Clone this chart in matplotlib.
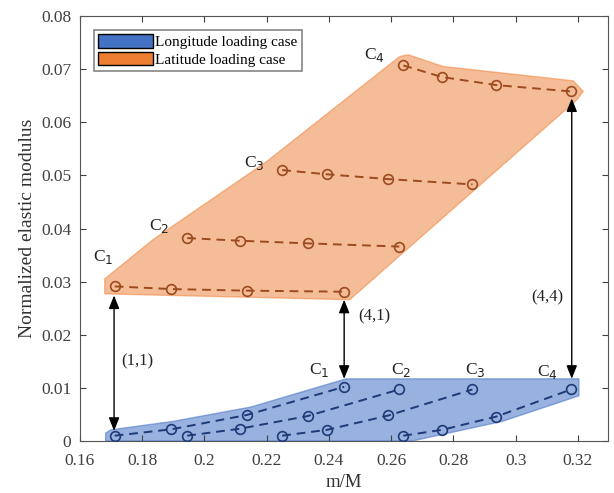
import numpy as np
import matplotlib
matplotlib.use('Agg')
from matplotlib import pyplot as plt
from matplotlib.patches import Patch, Polygon

plt.rcParams['font.family'] = ['Liberation Serif', 'DejaVu Serif']

ORANGE = '#ED7D31'
BLUE = '#4472C4'
ORANGE_DARK = '#9C4A1E'
BLUE_DARK = '#1E3A78'
AXIS_GRAY = '#404040'

# m/M values of the 4 cases (C1..C4), 4 points each
mM = [
    [0.1712, 0.1894, 0.2137, 0.2449],
    [0.1945, 0.2113, 0.2332, 0.2626],
    [0.2250, 0.2394, 0.2591, 0.2861],
    [0.2639, 0.2764, 0.2938, 0.3178],
]
# normalized elastic modulus, latitude loading
lat_E = [
    [0.0291, 0.0286, 0.0283, 0.0281],
    [0.0382, 0.0377, 0.0372, 0.0366],
    [0.0510, 0.0502, 0.0493, 0.0483],
    [0.0707, 0.0685, 0.0670, 0.0658],
]
# normalized elastic modulus, longitude loading
lon_E = [
    [0.0010, 0.0022, 0.0049, 0.0102],
    [0.0010, 0.0023, 0.0047, 0.0097],
    [0.0010, 0.0021, 0.0048, 0.0097],
    [0.0010, 0.0021, 0.0046, 0.0097],
]
# envelopes of the shaded regions
lat_env_x = [0.1680, 0.1680, 0.1835, 0.2200, 0.2628, 0.2655, 0.2767, 0.3185, 0.3217, 0.3196, 0.2467, 0.1680]
lat_env_y = [0.0277, 0.0305, 0.0379, 0.0526, 0.0724, 0.0727, 0.0705, 0.0678, 0.0658, 0.0642, 0.0266, 0.0277]
lon_env_x = [0.1683, 0.1683, 0.1700, 0.1900, 0.2150, 0.2455, 0.3203, 0.3203, 0.2957, 0.2668, 0.1683]
lon_env_y = [0.0000, 0.0015, 0.0021, 0.0037, 0.0064, 0.0117, 0.0117, 0.0085, 0.0037, 0.0000, 0.0000]

case_labels = ['C$_1$', 'C$_2$', 'C$_3$', 'C$_4$']
lat_label_pos = [(0.1675, 0.0347), (0.1854, 0.0404), (0.2159, 0.0524), (0.2545, 0.0727)]
lon_label_pos = [(0.2369, 0.0133), (0.2631, 0.0133), (0.2871, 0.0133), (0.3101, 0.0130)]

# double arrows: (label, x, y_top, y_bottom, label x, label y)
arrows = [
    ('(1,1)', 0.1710, 0.0274, 0.0019, 0.1784, 0.0149),
    ('(4,1)', 0.2449, 0.0266, 0.0117, 0.2546, 0.0234),
    ('(4,4)', 0.3180, 0.0645, 0.0117, 0.3100, 0.0271),
]

fig = plt.figure(figsize=(6.14, 4.93), dpi=100)
ax = fig.add_axes([0.130, 0.1055, 0.860, 0.862])

ax.add_patch(Polygon(np.column_stack([lon_env_x, lon_env_y]), closed=True,
                     facecolor=BLUE, alpha=0.55, edgecolor=BLUE, lw=1, zorder=1))
ax.add_patch(Polygon(np.column_stack([lat_env_x, lat_env_y]), closed=True,
                     facecolor=ORANGE, alpha=0.5, edgecolor=ORANGE, lw=1, zorder=1))

for i in range(4):
    ax.plot(mM[i], lat_E[i], '--o', color=ORANGE_DARK, mfc='none', ms=7, lw=1.4, mew=1.2,
            dashes=(4.5, 3), zorder=3)
    ax.plot(mM[i], lon_E[i], '--o', color=BLUE_DARK, mfc='none', ms=7, lw=1.4, mew=1.2,
            dashes=(4.5, 3), zorder=3)
    ax.text(*lat_label_pos[i], case_labels[i], fontsize=12.5, ha='center', va='center', color='#222222')
    ax.text(*lon_label_pos[i], case_labels[i], fontsize=12.5, ha='center', va='center', color='#222222')

for lab, x, yt, yb, lx, ly in arrows:
    ax.annotate('', xy=(x, yt), xytext=(x, yb),
                arrowprops=dict(arrowstyle='<|-|>,head_length=0.8,head_width=0.32',
                                color='black', lw=1.0, shrinkA=0, shrinkB=0), zorder=4)
    ax.text(lx, ly, lab, fontsize=12, ha='center', va='center', color='#222222')

ax.set_xlim(0.16, 0.3296)
ax.set_ylim(0, 0.08)
ax.set_xticks(np.arange(0.16, 0.3201, 0.02))
ax.set_xticklabels(['0.16', '0.18', '0.2', '0.22', '0.24', '0.26', '0.28', '0.3', '0.32'])
ax.set_yticks(np.arange(0, 0.0801, 0.01))
ax.set_yticklabels(['0', '0.01', '0.02', '0.03', '0.04', '0.05', '0.06', '0.07', '0.08'])
ax.tick_params(direction='in', top=True, right=True, labelsize=12.5, colors=AXIS_GRAY, length=4)
ax.tick_params(axis='x', pad=9)
ax.tick_params(axis='y', pad=6)
for s in ax.spines.values():
    s.set_color('#555555')
ax.set_xlabel('m/M', fontsize=13.5, color='#333333', labelpad=3)
ax.set_ylabel('Normalized elastic modulus', fontsize=14, color='#333333', labelpad=4)

handles = [Patch(facecolor=BLUE, edgecolor='black', label='Longitude loading case'),
           Patch(facecolor=ORANGE, edgecolor='black', label='Latitude loading case')]
leg = ax.legend(handles=handles, loc='upper left', fontsize=11, frameon=True, fancybox=False,
                edgecolor='#666666', handlelength=3.6, handleheight=1.0, handletextpad=0.1,
                borderpad=0.3, labelspacing=0.15, borderaxespad=0.9)
leg.get_frame().set_linewidth(1.2)

fig.savefig('out.png', dpi=100)
